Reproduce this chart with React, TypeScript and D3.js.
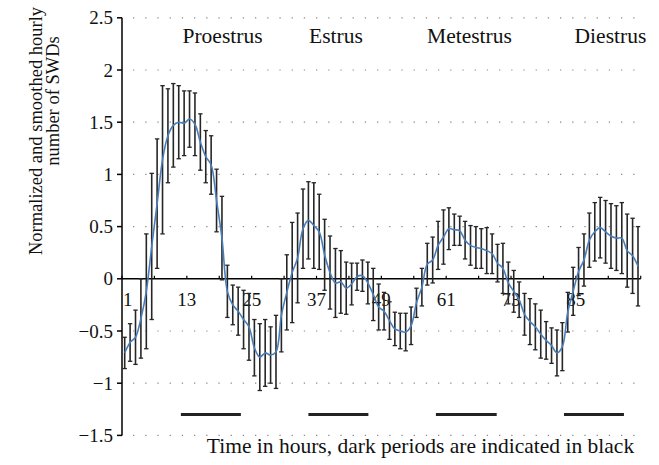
import React from "react";
import * as d3 from "d3";

const hours: number[] = d3.range(1, 97);

const meanValues: number[] = [
  -0.71, -0.61, -0.56, -0.38, -0.12, 0.31, 0.72, 1.14, 1.37, 1.47, 1.5, 1.49,
  1.53, 1.48, 1.31, 1.17, 1.09, 0.75, 0.39, -0.12, -0.25, -0.31, -0.39, -0.46,
  -0.66, -0.75, -0.71, -0.73, -0.7, -0.35, -0.13, 0.06, 0.2, 0.48, 0.56, 0.51,
  0.45, 0.23, 0.06, -0.04, -0.03, -0.09, -0.05, 0.02, 0.03, -0.04, -0.15, -0.27,
  -0.31, -0.4, -0.48, -0.5, -0.51, -0.45, -0.23, -0.08, 0.14, 0.18, 0.32, 0.4,
  0.48, 0.47, 0.46, 0.37, 0.32, 0.3, 0.29, 0.27, 0.24, 0.15, 0.1, -0.04,
  -0.12, -0.2, -0.34, -0.41, -0.46, -0.53, -0.59, -0.64, -0.71, -0.65, -0.32, -0.12,
  0.07, 0.18, 0.37, 0.45, 0.49, 0.45, 0.41, 0.39, 0.39, 0.27, 0.22, 0.12,
];

const errValues: number[] = [
  0.15, 0.18, 0.26, 0.38, 0.55, 0.7, 0.62, 0.71, 0.45, 0.4, 0.35, 0.31,
  0.27, 0.3, 0.27, 0.25, 0.28, 0.3, 0.4, 0.25, 0.19, 0.23, 0.28, 0.32,
  0.27, 0.32, 0.32, 0.27, 0.35, 0.35, 0.36, 0.48, 0.43, 0.38, 0.37, 0.41,
  0.36, 0.34, 0.35, 0.33, 0.3, 0.25, 0.2, 0.13, 0.15, 0.2, 0.25, 0.22,
  0.18, 0.18, 0.16, 0.17, 0.18, 0.18, 0.14, 0.18, 0.2, 0.22, 0.23, 0.26,
  0.2, 0.15, 0.14, 0.18, 0.19, 0.2, 0.19, 0.22, 0.19, 0.18, 0.24, 0.2,
  0.2, 0.17, 0.2, 0.22, 0.22, 0.23, 0.18, 0.17, 0.22, 0.23, 0.19, 0.23,
  0.23, 0.25, 0.26, 0.28, 0.29, 0.3, 0.31, 0.31, 0.34, 0.35, 0.36, 0.38,
];

const yTicks: number[] = [-1.5, -1, -0.5, 0, 0.5, 1, 1.5, 2, 2.5];
const xTickLabels: number[] = [1, 13, 25, 37, 49, 61, 73, 85];

const phaseLabels: string[] = ["Proestrus", "Estrus", "Metestrus", "Diestrus"];
const phaseCenterHour: number[] = [18.6, 39.6, 64.3, 90.4];

const darkStart: number[] = [10.9, 34.5, 58.1, 81.8];
const darkEnd: number[] = [22.0, 45.6, 69.35, 92.9];
const darkLevel = -1.3;

const W = 659;
const H = 465;
const FONT = "'Liberation Serif', 'Times New Roman', serif";

export default function App() {
  const x0 = 122;
  const x1 = 640.7;
  const xBand = d3.scaleBand<number>().domain(hours).range([x0, x1]).padding(0);
  const xLin = d3.scaleLinear().domain([0, 96]).range([x0, x1]);
  const y = d3.scaleLinear().domain([-1.5, 2.5]).range([435.4, 17.8]);
  const cx = (h: number) => (xBand(h) as number) + xBand.bandwidth() / 2;

  const pts = hours.map((h, i) => [cx(h), y(meanValues[i])] as [number, number]);
  const line = d3.line().curve(d3.curveCatmullRom.alpha(0.5))(pts) || "";

  const axisX = xLin(0);
  const capW = 2.2;
  const tickBoundaries = d3.range(0, 97, 6);

  return (
    <svg
      width={W}
      height={H}
      style={{ position: "absolute", left: 0, top: 0, background: "#fff" }}
      fontFamily={FONT}
    >
      {/* gridlines */}
      {yTicks
        .filter((t) => t !== 0)
        .map((t) => (
          <line
            key={"g" + t}
            x1={axisX}
            x2={x1}
            y1={y(t)}
            y2={y(t)}
            stroke="#8a8a8a"
            strokeWidth={1.2}
            strokeDasharray="1.3 10.9"
            strokeDashoffset={1.2}
          />
        ))}

      {/* y axis */}
      <line x1={axisX} x2={axisX} y1={y(2.5)} y2={y(-1.5)} stroke="#000" strokeWidth={1.5} />
      {yTicks.map((t) => (
        <g key={"yt" + t}>
          <line x1={axisX - 5} x2={axisX} y1={y(t)} y2={y(t)} stroke="#000" strokeWidth={1.5} />
          <text
            x={113}
            y={y(t)}
            dy="0.35em"
            textAnchor="end"
            fontSize={19}
            fill="#111"
          >
            {t < 0 ? "\u2212" + Math.abs(t) : String(t)}
          </text>
        </g>
      ))}

      {/* x axis */}
      <line x1={axisX} x2={x1} y1={y(0)} y2={y(0)} stroke="#000" strokeWidth={1.5} />
      {tickBoundaries.map((k) => (
        <line
          key={"xt" + k}
          x1={xLin(k)}
          x2={xLin(k)}
          y1={y(0)}
          y2={y(0) - 3}
          stroke="#000"
          strokeWidth={1.2}
        />
      ))}
      {xTickLabels.map((h, i) => (
        <text
          key={"xl" + h}
          x={i === 0 ? xLin(h - 1) + 1 : xLin(h - 1)}
          y={306}
          textAnchor={i === 0 ? "start" : "middle"}
          fontSize={19}
          fill="#111"
        >
          {h}
        </text>
      ))}

      {/* error bars */}
      {hours.map((h, i) => {
        const xc = cx(h);
        const yt = y(meanValues[i] + errValues[i]);
        const yb = y(meanValues[i] - errValues[i]);
        return (
          <g key={"e" + h} stroke="#262626">
            <line x1={xc} x2={xc} y1={yt} y2={yb} strokeWidth={1.6} />
            <line x1={xc - capW} x2={xc + capW} y1={yt} y2={yt} strokeWidth={1.3} />
            <line x1={xc - capW} x2={xc + capW} y1={yb} y2={yb} strokeWidth={1.3} />
          </g>
        );
      })}

      {/* smoothed mean line */}
      <path d={line} fill="none" stroke="#4a7ebb" strokeWidth={1.6} />

      {/* dark periods */}
      {darkStart.map((s, i) => (
        <line
          key={"d" + i}
          x1={xLin(s)}
          x2={xLin(darkEnd[i])}
          y1={y(darkLevel)}
          y2={y(darkLevel)}
          stroke="#222"
          strokeWidth={3}
        />
      ))}

      {/* phase labels */}
      {phaseLabels.map((p, i) => (
        <text
          key={p}
          x={xLin(phaseCenterHour[i])}
          y={43}
          textAnchor="middle"
          fontSize={21.5}
          fill="#111"
        >
          {p}
        </text>
      ))}

      {/* axis titles */}
      <text
        transform={`translate(42,131) rotate(-90)`}
        textAnchor="middle"
        fontSize={18.5}
        fill="#111"
      >
        Normalized and smoothed hourly
      </text>
      <text
        transform={`translate(59,101) rotate(-90)`}
        textAnchor="middle"
        fontSize={18.5}
        fill="#111"
      >
        number of SWDs
      </text>
      <text x={420.5} y={453} textAnchor="middle" fontSize={21.5} fill="#111">
        Time in hours, dark periods are indicated in black
      </text>
    </svg>
  );
}
